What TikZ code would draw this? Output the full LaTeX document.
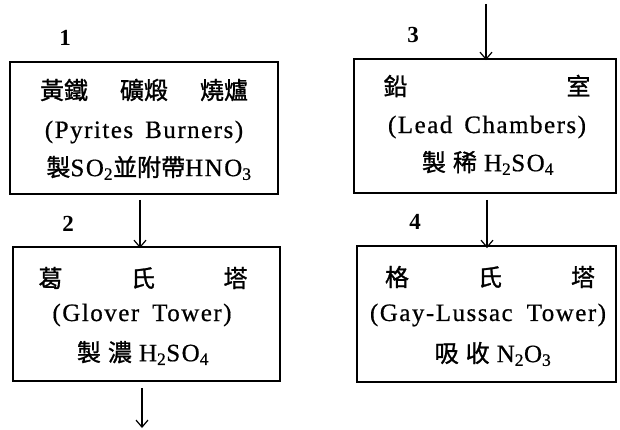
\documentclass[tikz,border=0pt]{standalone}
\usepackage{fontspec}
\setmainfont{Liberation Serif}
\newfontfamily\cjk[FakeBold=1.2]{Noto Sans CJK TC}
\newfontfamily\lat[LetterSpace=6,FakeBold=0.6]{Liberation Serif}
\usetikzlibrary{arrows.meta}
\tikzset{
  box/.style={draw=black, line width=1.8pt, rectangle, inner sep=0pt},
  line/.style={inner sep=0pt, anchor=center, font=\fontsize{25}{25}\selectfont},
  num/.style={inner sep=0pt, font=\fontsize{23}{23}\selectfont\bfseries},
  arr/.style={line width=1.3pt, -{Straight Barb[length=7pt,width=12pt,line width=1.2pt]}}
}
\newcommand{\ck}[1]{{\cjk\fontsize{24}{24}\selectfont #1}}
\begin{document}
\begin{tikzpicture}[x=1pt,y=-1pt]
\useasboundingbox (0,0) rectangle (620,430);
% boxes
\node[box, minimum width=268pt, minimum height=132pt] (b1) at (144,128) {};
\node[box, minimum width=267pt, minimum height=134pt] (b2) at (146.5,314) {};
\node[box, minimum width=262pt, minimum height=134pt] (b3) at (485,126) {};
\node[box, minimum width=259pt, minimum height=136pt] (b4) at (486.5,314) {};
% labels
\node[num] (n1) at (65,38) {1};
\node[num] (n2) at (68,224) {2};
\node[num] (n3) at (413,35) {3};
\node[num] (n4) at (415,222) {4};
% box 1
\node[line] (t11) at (144,90) {\makebox[208pt][s]{\ck{黃鐵}\hfill\ck{礦煅}\hfill\ck{燒爐}}};
\node[line] (t12) at (144,132) {\lat (Pyrites\hspace{12pt}Burners)};
\node[line] (t13) at (149,168) {\ck{製}\lat SO\textsubscript{2}\ck{並附帶}\lat HNO\textsubscript{3}};
% box 2
\node[line] (t21) at (143,278) {\makebox[209pt][s]{\ck{葛}\hfill\ck{氏}\hfill\ck{塔}}};
\node[line] (t22) at (142,315) {\lat (Glover\hspace{13pt}Tower)};
\node[line] (t23) at (143,353) {\ck{製}\hspace{7pt}\ck{濃}\hspace{7pt}\lat H\textsubscript{2}SO\textsubscript{4}};
% box 3
\node[line] (t31) at (487,86) {\makebox[207pt][s]{\ck{鉛}\hfill\ck{室}}};
\node[line] (t32) at (487,127) {\lat (Lead\hspace{12pt}Chambers)};
\node[line] (t33) at (488,163) {\ck{製}\hspace{7pt}\ck{稀}\hspace{7pt}\lat H\textsubscript{2}SO\textsubscript{4}};
% box 4
\node[line] (t41) at (490,277) {\makebox[210pt][s]{\ck{格}\hfill\ck{氏}\hfill\ck{塔}}};
\node[line] (t42) at (488,315) {\lat (Gay-Lussac\hspace{14pt}Tower)};
\node[line] (t43) at (493,354) {\ck{吸}\hspace{7pt}\ck{收}\hspace{7pt}\lat N\textsubscript{2}O\textsubscript{3}};
% arrows
\coordinate (in3) at (486,4);
\coordinate (out2) at (142,428);
\draw[arr] ([xshift=-4pt,yshift=-5pt]b1.south) -- ([xshift=-6.5pt,yshift=-2pt]b2.north);
\draw[arr] ([xshift=-4.5pt,yshift=-6pt]b2.south) -- (out2);
\draw[arr] (in3) -- ([xshift=1pt,yshift=-2pt]b3.north);
\draw[arr] ([xshift=2pt,yshift=-6pt]b3.south) -- ([xshift=0.5pt,yshift=-3pt]b4.north);
\end{tikzpicture}
\end{document}
